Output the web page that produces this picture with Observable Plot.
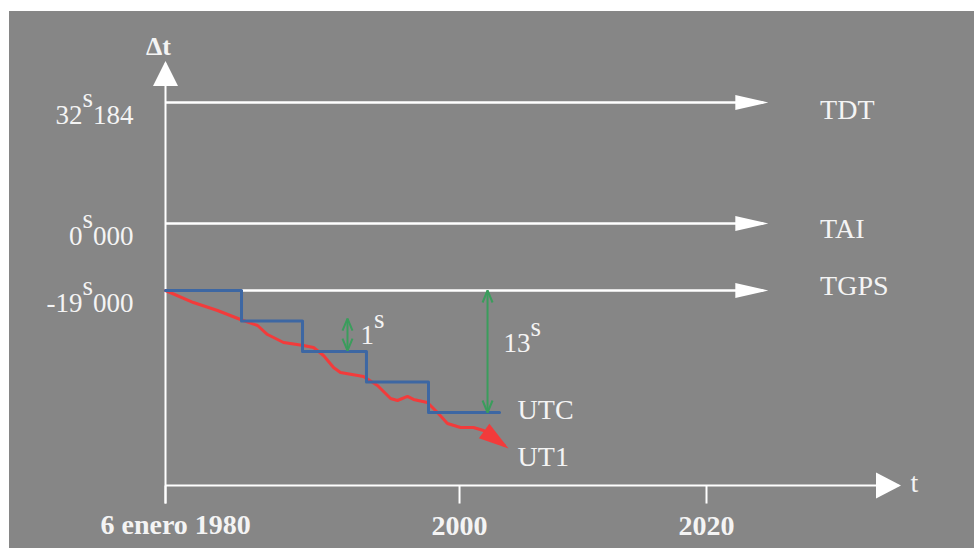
<!DOCTYPE html>
<html><head><meta charset="utf-8">
<script src="https://cdn.jsdelivr.net/npm/d3@7"></script>
<script src="https://cdn.jsdelivr.net/npm/@observablehq/plot@0.6"></script>
<style>
html,body{margin:0;padding:0;background:#fff;}
#chart{position:absolute;left:9px;top:11px;}
</style></head><body><div id="chart"></div>
<script>
// ---- data (years, seconds) ----
const xTickYears = [1980, 2000, 2020];
const xTickLabels = ["6 enero 1980", "2000", "2020"];
const scaleNames = ["TDT", "TAI", "TGPS"];
const scaleOffsets = [32.184, 0, -19];
const offsetLabels = ["32^s^184", "0^s^000", "-19^s^000"];
const scaleLabelLevels = [27.9, -4.25, -19.5];
const scaleArrowEnd = 2024.6;
const utcStepYears = [1980, 1985.17, 1989.32, 1993.67, 1997.89, 2003.24];
const utcStepOffsets = [-19, -22.25, -25.5, -28.75, -32, -32];
const ut1Years = [1980, 1981.9, 1983.54, 1985.1, 1986.26, 1986.94, 1988.03, 1989.39, 1990.07, 1990.75, 1991.43, 1991.9, 1993.47, 1994.42, 1995.31, 1995.78, 1996.46, 1996.87, 1997.82, 1998.5, 1999.18, 2000.08, 2001.13, 2001.94, 2003.64];
const ut1Offsets = [-19, -20.28, -21.13, -22.09, -22.73, -23.69, -24.54, -24.86, -25.07, -25.93, -27.2, -27.74, -28.16, -29.12, -30.51, -30.72, -30.29, -30.61, -30.93, -32.0, -33.17, -33.6, -33.6, -33.92, -35.52];
const gapYears = [1992.38, 2002.27];
const gapFrom = [-22.0, -19];
const gapTo = [-25.4, -32];
const gapLabels = ["1^s", "13^s"];
const gapLabelYears = [1993.27, 2003.56];
const gapLabelLevels = [-24.75, -25.6];
const seriesLabels = ["UTC", "UT1"];
const seriesLabelLevels = [-32.64, -37.65];
const seriesLabelYear = 2004.7;
const axisLevel = -39.78, tickBottom = -41.7, axisTop = 42.55, axisEnd = 2035.55;

// schematic (non-uniform) axes of the original drawing
const X = d3.scaleLinear().domain([1980, 2000, 2020]).range([0, 20, 36.8]);
const Y = d3.scaleLinear().domain([-32, -19, 0, 32.184]).range([0, 122, 189, 310]);

// ---- tables ----
const scaleRows = scaleNames.map((name, i) => ({name, offset: scaleOffsets[i], label: offsetLabels[i], labelLevel: scaleLabelLevels[i]}));
const utc = utcStepYears.map((t, i) => ({t, v: utcStepOffsets[i]}));
const ut1 = ut1Years.map((t, i) => ({t, v: ut1Offsets[i]}));
const gaps = gapYears.map((t, i) => ({t, a: gapFrom[i], b: gapTo[i], label: gapLabels[i], lt: gapLabelYears[i], lv: gapLabelLevels[i]}));
const ticks = xTickYears.map((t, i) => ({t, label: xTickLabels[i]}));
const seriesRows = seriesLabels.map((s, i) => ({s, v: seriesLabelLevels[i]}));

const NS = "http://www.w3.org/2000/svg";
function filledHead(len, half, back) {
  return (color) => {
    const m = document.createElementNS(NS, "marker");
    m.setAttribute("viewBox", `0 ${-half} ${len} ${2 * half}`);
    m.setAttribute("markerUnits", "userSpaceOnUse");
    m.setAttribute("markerWidth", len);
    m.setAttribute("markerHeight", 2 * half);
    m.setAttribute("refX", len - back);
    m.setAttribute("refY", 0);
    m.setAttribute("orient", "auto");
    m.setAttribute("overflow", "visible");
    const p = document.createElementNS(NS, "path");
    p.setAttribute("d", `M0,${-half}L${len},0L0,${half}Z`);
    p.setAttribute("fill", color);
    p.setAttribute("stroke", "none");
    m.appendChild(p);
    return m;
  };
}
function chevron(len, half) {
  return (color) => {
    const m = document.createElementNS(NS, "marker");
    m.setAttribute("viewBox", `${-len - 2} ${-half - 2} ${len + 4} ${2 * half + 4}`);
    m.setAttribute("markerUnits", "userSpaceOnUse");
    m.setAttribute("markerWidth", len + 4);
    m.setAttribute("markerHeight", 2 * half + 4);
    m.setAttribute("refX", 0);
    m.setAttribute("refY", 0);
    m.setAttribute("orient", "auto-start-reverse");
    m.setAttribute("overflow", "visible");
    const p = document.createElementNS(NS, "path");
    p.setAttribute("d", `M${-len},${-half}L0,0L${-len},${half}`);
    p.setAttribute("fill", "none");
    p.setAttribute("stroke", color);
    p.setAttribute("stroke-width", 2);
    m.appendChild(p);
    return m;
  };
}

const serif = "Liberation Serif";
const txt = "#f4f4f4";
const one = [0];
const chart = Plot.plot({
  width: 965, height: 537, margin: 0,
  style: {background: "#868686", overflow: "visible"},
  x: {type: "linear", domain: [0, 36.8], range: [156, 697], axis: null},
  y: {type: "linear", domain: [0, 310], range: [401, 91], axis: null},
  marks: [
    // axes
    Plot.link(one, {x1: () => X(1980), x2: () => X(1980), y1: () => Y(tickBottom), y2: () => Y(axisTop), stroke: "white", strokeWidth: 2, markerEnd: filledHead(25, 12.5, 2.5)}),
    Plot.link(one, {x1: () => X(1980), x2: () => X(axisEnd), y1: () => Y(axisLevel), y2: () => Y(axisLevel), stroke: "white", strokeWidth: 2, markerEnd: filledHead(25, 13, 2.5)}),
    Plot.link(ticks, {x1: d => X(d.t), x2: d => X(d.t), y1: () => Y(axisLevel), y2: () => Y(tickBottom), stroke: "white", strokeWidth: 2}),
    Plot.text(ticks.slice(0, 1), {x: d => X(d.t), y: () => Y(axisLevel), text: "label", textAnchor: "start", lineAnchor: "bottom", dx: -65, dy: 48, fontSize: 28, fontWeight: "bold", fontFamily: serif, fill: txt}),
    Plot.text(ticks.slice(1), {x: d => X(d.t), y: () => Y(axisLevel), text: "label", textAnchor: "middle", lineAnchor: "bottom", dy: 49, fontSize: 28, fontWeight: "bold", fontFamily: serif, fill: txt}),
    Plot.text(["Δt"], {x: () => X(1980), y: () => Y(axisTop), text: d => d, textAnchor: "middle", lineAnchor: "bottom", dx: -7, dy: -9, fontSize: 26, fontWeight: "bold", fontFamily: serif, fill: txt}),
    Plot.text(["t"], {x: () => X(axisEnd), y: () => Y(axisLevel), text: d => d, textAnchor: "start", lineAnchor: "bottom", dx: 12, dy: 6, fontSize: 28, fontFamily: serif, fill: txt}),
    // time scales
    Plot.link(scaleRows, {x1: () => X(1980), x2: () => X(scaleArrowEnd), y1: d => Y(d.offset), y2: d => Y(d.offset), stroke: "white", strokeWidth: 2.5, markerEnd: filledHead(33, 7.5, 5)}),
    Plot.text(scaleRows, {x: () => X(1980), y: d => Y(d.offset), text: "label", textAnchor: "end", lineAnchor: "bottom", dx: -32, dy: 21, fontSize: 27, fontFamily: serif, fill: txt}),
    Plot.text(scaleRows, {x: () => X(2029.2), y: d => Y(d.labelLevel), text: "name", textAnchor: "start", lineAnchor: "bottom", fontSize: 28, fontFamily: serif, fill: txt}),
    // UT1 and UTC
    Plot.line(ut1, {x: d => X(d.t), y: d => Y(d.v), stroke: "#f23b3b", strokeWidth: 3, markerEnd: filledHead(30, 9, 5)}),
    Plot.line(utc, {x: d => X(d.t), y: d => Y(d.v), curve: "step-after", stroke: "#3d67a3", strokeWidth: 3}),
    Plot.text(seriesRows, {x: () => X(seriesLabelYear), y: d => Y(d.v), text: "s", textAnchor: "start", lineAnchor: "bottom", fontSize: 28, fontFamily: serif, fill: txt}),
    // gaps
    Plot.link(gaps, {x1: d => X(d.t), x2: d => X(d.t), y1: d => Y(d.a), y2: d => Y(d.b), stroke: "#3a9d5c", strokeWidth: 2, markerStart: chevron(12, 5), markerEnd: chevron(12, 5)}),
    Plot.text(gaps, {x: d => X(d.lt), y: d => Y(d.lv), text: "label", textAnchor: "start", lineAnchor: "bottom", fontSize: 27, fontFamily: serif, fill: txt})
  ]
});

// superscript "s" via tspans
d3.select(chart).selectAll("text").each(function () {
  const s = this.textContent;
  if (!s.includes("^")) return;
  const parts = s.split("^");
  this.textContent = "";
  parts.forEach((p, k) => {
    const ts = document.createElementNS(NS, "tspan");
    ts.textContent = p;
    if (k % 2 === 1) ts.setAttribute("dy", "-0.6em");
    else if (k > 0) ts.setAttribute("dy", "0.6em");
    this.appendChild(ts);
  });
});
document.getElementById("chart").appendChild(chart);
</script></body></html>
